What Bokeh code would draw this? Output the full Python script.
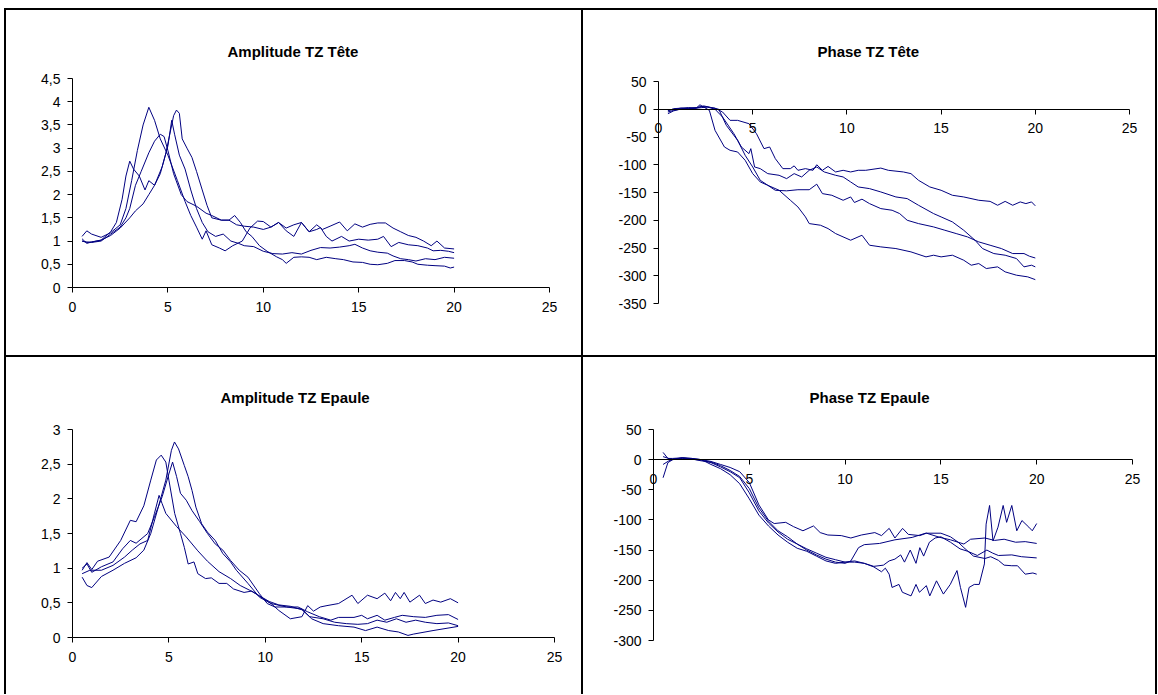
from bokeh.plotting import figure
from bokeh.layouts import column, row
from bokeh.models import Range1d, FixedTicker, CustomJSTickFormatter, Title
from bokeh.embed import file_html
from bokeh.resources import INLINE

# ---------------- data ----------------
# Amplitude TZ Tete
tl_x1 = [0.5, 0.75, 1.0, 1.5, 2.0, 2.5, 2.8, 3.1, 3.4, 3.7, 4.0, 4.3, 4.6, 5.0, 5.5, 5.9, 6.2, 6.5, 6.8, 7.0,
         7.3, 7.7, 8.0, 8.4, 8.9, 9.3, 9.7, 10.0, 10.4, 10.8, 11.2, 11.6, 12.0, 12.4, 12.8, 13.1, 13.5, 14.0, 14.4, 14.8,
         15.2, 15.6, 16.0, 16.4, 16.8, 17.2, 17.6, 18.0, 18.4, 18.8, 19.1, 19.5, 20.0]
tl_y1 = [1.1, 1.22, 1.15, 1.08, 1.18, 1.35, 1.7, 2.3, 2.95, 3.5, 3.88, 3.6, 3.2, 2.85, 2.3, 1.85, 1.55, 1.3, 1.04, 1.22,
         0.92, 0.85, 0.79, 0.9, 1.0, 1.28, 1.43, 1.42, 1.3, 1.4, 1.28, 1.35, 1.4, 1.2, 1.35, 1.25, 1.32, 1.41, 1.22, 1.37,
         1.3, 1.36, 1.39, 1.39, 1.28, 1.2, 1.12, 1.08, 1.0, 0.9, 1.0, 0.85, 0.83]
tl_x2 = [0.5, 0.75, 1.0, 1.5, 2.0, 2.5, 3.0, 3.3, 3.7, 4.0, 4.3, 4.6, 4.9, 5.1, 5.3, 5.45, 5.6, 5.75, 6.0, 6.26,
         6.5, 6.8, 7.05, 7.3, 7.8, 8.2, 8.6, 9.0, 9.5, 10.0, 10.4, 10.8, 11.2, 11.6, 12.0, 12.4, 12.8, 13.0, 13.3, 13.6,
         14.1, 14.5, 15.0, 15.5, 16.0, 16.3, 16.7, 17.1, 17.6, 18.1, 18.6, 18.9, 19.3, 19.7, 20.0]
tl_y2 = [1.0, 0.97, 0.98, 1.02, 1.12, 1.28, 1.5, 1.65, 1.8, 2.0, 2.2, 2.45, 2.9, 3.3, 3.7, 3.82, 3.75, 3.2, 3.0, 2.8,
         2.5, 2.1, 1.77, 1.5, 1.45, 1.45, 1.35, 1.32, 1.3, 1.25, 1.3, 1.4, 1.22, 1.1, 1.4, 1.2, 1.25, 1.29, 1.1, 1.0,
         1.1, 1.0, 1.04, 1.02, 1.04, 1.1, 0.88, 0.97, 0.92, 0.9, 0.85, 0.79, 0.8, 0.78, 0.75]
tl_x3 = [0.5, 0.75, 1.0, 1.5, 2.0, 2.3, 2.6, 2.8, 3.0, 3.2, 3.5, 3.8, 4.0, 4.3, 4.7, 5.0, 5.2, 5.35, 5.6, 5.9,
         6.2, 6.5, 6.8, 7.1, 7.5, 7.9, 8.3, 8.7, 9.0, 9.5, 10.0, 10.5, 11.0, 11.5, 12.0, 12.5, 13.0, 13.5, 14.0, 14.5,
         14.8, 15.2, 15.6, 16.0, 16.5, 16.8, 17.2, 17.6, 18.0, 18.5, 19.0, 19.5, 20.0]
tl_y3 = [1.05, 0.95, 0.98, 1.02, 1.2, 1.4, 1.9, 2.4, 2.72, 2.55, 2.4, 2.1, 2.3, 2.2, 2.6, 3.05, 3.6, 3.3, 2.85, 2.55,
         2.1, 1.7, 1.4, 1.2, 1.1, 1.15, 1.0, 0.95, 0.9, 0.88, 0.78, 0.73, 0.72, 0.75, 0.72, 0.8, 0.86, 0.85, 0.87, 0.9,
         0.93, 0.85, 0.79, 0.76, 0.74, 0.68, 0.62, 0.6, 0.57, 0.62, 0.6, 0.65, 0.63]
tl_x4 = [0.5, 0.75, 1.0, 1.5, 2.0, 2.5, 2.8, 3.0, 3.3, 3.6, 4.0, 4.3, 4.6, 4.8, 5.0, 5.3, 5.7, 6.0, 6.5, 7.0,
         7.3, 7.8, 8.2, 8.5, 8.8, 9.1, 9.4, 9.8, 10.2, 10.7, 11.0, 11.2, 11.6, 12.0, 12.4, 12.8, 13.3, 13.8, 14.2, 14.7,
         15.2, 15.6, 16.0, 16.5, 16.9, 17.4, 17.8, 18.1, 18.6, 19.0, 19.5, 19.8, 20.0]
tl_y4 = [1.0, 0.98, 0.97, 1.0, 1.15, 1.3, 1.5, 1.7, 2.2, 2.5, 2.9, 3.15, 3.3, 3.25, 2.95, 2.45, 2.0, 1.85, 1.75, 1.6,
         1.55, 1.45, 1.45, 1.55, 1.4, 1.2, 1.1, 0.9, 0.78, 0.66, 0.6, 0.52, 0.65, 0.66, 0.65, 0.6, 0.65, 0.62, 0.6, 0.55,
         0.54, 0.5, 0.49, 0.52, 0.58, 0.58, 0.55, 0.5, 0.48, 0.47, 0.46, 0.42, 0.44]

# Phase TZ Tete
tr_x1 = [0.5, 0.8, 1.2, 1.6, 2.0, 2.3, 2.6, 3.0, 3.4, 3.8, 4.2, 4.8, 5.2, 5.6, 5.9, 6.2, 6.6, 7.0, 7.2, 7.4,
         7.8, 8.2, 8.4, 8.7, 9.0, 9.4, 9.8, 10.2, 10.6, 11.0, 11.8, 12.2, 13.0, 13.4, 13.8, 14.4, 15.0, 15.6, 16.2, 17.0,
         17.6, 18.0, 18.4, 18.8, 19.2, 19.5, 19.8, 20.0]
tr_y1 = [-5, -2, 0, 1, 2, 3, 4, 2, -5, -20, -20, -26, -44, -71, -68, -89, -107, -107, -102, -110,
         -107, -110, -100, -110, -103, -113, -110, -113, -110, -110, -106, -110, -113, -116, -128, -140, -146, -155, -158, -164,
         -166, -173, -166, -173, -167, -170, -167, -174]
tr_x2 = [0.5, 0.8, 1.2, 1.6, 2.0, 2.3, 2.6, 3.0, 3.4, 4.0, 4.4, 4.8, 4.9, 5.1, 5.4, 5.8, 6.4, 6.8, 7.2, 7.6,
         8.0, 8.4, 8.8, 9.4, 9.8, 10.2, 10.6, 11.2, 11.8, 12.6, 13.2, 13.8, 14.6, 15.0, 15.6, 16.2, 16.8, 17.2, 17.8, 18.4,
         19.0, 19.4, 19.8, 20.0]
tr_y2 = [-8, -3, 1, 2, 3, 5, 4, 0, -14, -44, -68, -80, -71, -104, -107, -116, -119, -125, -116, -122,
         -110, -104, -113, -119, -122, -131, -140, -143, -149, -158, -161, -173, -188, -194, -203, -218, -236, -251, -260, -263,
         -269, -284, -281, -284]
tr_x3 = [0.5, 0.8, 1.2, 1.6, 2.0, 2.4, 2.8, 3.2, 3.6, 4.2, 4.6, 5.0, 5.4, 5.8, 6.2, 6.8, 7.4, 8.0, 8.4, 8.7,
         9.2, 9.8, 10.2, 10.4, 10.8, 11.2, 11.8, 12.4, 12.8, 13.2, 13.8, 14.6, 15.2, 15.8, 16.4, 17.0, 17.6, 18.2, 18.8, 19.4,
         19.7, 20.0]
tr_y3 = [-3, 1, 2, 1, 2, 6, 3, 0, -29, -56, -83, -104, -128, -137, -146, -147, -145, -145, -135, -152,
         -155, -164, -158, -168, -162, -170, -179, -182, -188, -200, -206, -212, -218, -224, -230, -239, -245, -251, -260, -260,
         -265, -268]
tr_x4 = [0.5, 0.8, 1.2, 1.6, 2.0, 2.2, 2.7, 3.0, 3.5, 3.8, 4.2, 4.6, 5.0, 5.4, 5.8, 6.4, 7.0, 7.4, 7.8, 8.0,
         8.6, 9.0, 9.4, 10.2, 10.8, 11.2, 11.8, 12.6, 13.4, 14.2, 14.6, 15.0, 15.6, 16.2, 16.6, 17.0, 17.4, 18.0, 18.4, 19.0,
         19.6, 20.0]
tr_y4 = [-2, 0, 2, 3, 2, 8, -2, -38, -68, -74, -77, -92, -116, -131, -137, -146, -164, -176, -194, -206,
         -209, -215, -224, -236, -227, -245, -248, -251, -257, -266, -263, -266, -263, -272, -281, -278, -287, -284, -293, -299,
         -302, -307]

# Amplitude TZ Epaule
bl_x1 = [0.5, 0.75, 1.0, 1.3, 1.9, 2.5, 3.0, 3.3, 3.7, 4.06, 4.35, 4.6, 4.84, 5.0, 5.3, 5.6, 5.8, 6.0, 6.3, 6.5,
         6.9, 7.2, 7.6, 8.0, 8.35, 8.9, 9.3, 9.9, 10.3, 10.7, 11.3, 11.9, 12.2, 12.5, 12.85, 13.2, 13.8, 14.5, 14.8, 15.3,
         15.8, 16.2, 16.5, 16.75, 17.0, 17.2, 17.5, 18.0, 18.3, 18.7, 19.1, 19.6, 20.0]
bl_y1 = [0.97, 1.08, 0.98, 1.1, 1.16, 1.40, 1.69, 1.67, 1.9, 2.27, 2.56, 2.63, 2.53, 2.27, 1.79, 1.5, 1.3, 1.06, 1.09, 0.92,
         0.85, 0.86, 0.78, 0.78, 0.70, 0.65, 0.67, 0.56, 0.49, 0.39, 0.27, 0.3, 0.46, 0.38, 0.44, 0.46, 0.49, 0.61, 0.49, 0.61,
         0.56, 0.64, 0.53, 0.65, 0.56, 0.65, 0.51, 0.61, 0.49, 0.54, 0.51, 0.56, 0.50]
bl_x2 = [0.5, 0.75, 1.0, 1.5, 2.1, 2.7, 3.3, 3.7, 4.06, 4.45, 4.84, 5.13, 5.29, 5.5, 5.8, 6.0, 6.2, 6.4, 6.7, 7.0,
         7.4, 7.8, 8.2, 8.5, 9.1, 9.7, 10.3, 11.1, 11.9, 12.4, 13.0, 13.8, 14.6, 15.2, 15.8, 16.4, 16.9, 17.4, 17.7, 18.7,
         20.0]
bl_y2 = [0.87, 0.75, 0.72, 0.88, 0.97, 1.07, 1.15, 1.26, 1.5, 1.88, 2.27, 2.70, 2.82, 2.72, 2.48, 2.32, 2.12, 1.88, 1.64, 1.52,
         1.4, 1.21, 1.09, 0.97, 0.78, 0.58, 0.49, 0.44, 0.41, 0.27, 0.2, 0.17, 0.15, 0.1, 0.15, 0.1, 0.08, 0.03, 0.05, 0.1,
         0.16]
bl_x3 = [0.5, 0.75, 1.0, 1.5, 2.1, 2.6, 3.0, 3.3, 3.9, 4.25, 4.65, 5.0, 5.19, 5.4, 5.6, 5.9, 6.2, 6.6, 7.0, 7.4,
         7.8, 8.2, 8.65, 9.1, 9.7, 10.1, 10.5, 11.1, 11.7, 12.2, 12.8, 13.4, 13.8, 14.6, 15.0, 15.3, 15.8, 16.2, 16.7, 17.1,
         17.7, 18.3, 18.9, 19.5, 20.0]
bl_y3 = [1.0, 1.06, 0.94, 1.02, 1.09, 1.28, 1.4, 1.36, 1.5, 1.74, 2.03, 2.36, 2.53, 2.32, 2.08, 1.98, 1.83, 1.67, 1.5, 1.35,
         1.26, 1.11, 0.97, 0.87, 0.63, 0.49, 0.44, 0.44, 0.44, 0.37, 0.3, 0.25, 0.29, 0.29, 0.32, 0.27, 0.32, 0.25, 0.29, 0.32,
         0.3, 0.29, 0.32, 0.33, 0.26]
bl_x4 = [0.5, 0.9, 1.5, 2.1, 2.7, 3.1, 3.5, 3.9, 4.25, 4.49, 4.65, 4.84, 5.4, 5.9, 6.5, 7.0, 7.6, 8.2, 8.7, 9.2,
         9.7, 10.2, 10.7, 11.3, 11.9, 12.3, 13.0, 13.6, 14.2, 14.8, 15.3, 15.8, 16.3, 16.8, 17.3, 17.8, 18.3, 18.9, 19.5, 20.0]
bl_y4 = [0.92, 0.97, 0.97, 1.04, 1.16, 1.26, 1.35, 1.4, 1.79, 2.05, 1.93, 1.79, 1.6, 1.45, 1.25, 1.1, 0.95, 0.85, 0.75, 0.68,
         0.6, 0.52, 0.47, 0.45, 0.4, 0.3, 0.27, 0.22, 0.2, 0.19, 0.2, 0.25, 0.22, 0.27, 0.22, 0.25, 0.22, 0.2, 0.21, 0.17]

# Phase TZ Epaule
br_x1 = [0.5, 0.8, 1.0, 1.5, 2.0, 2.5, 3.0, 3.5, 4.0, 4.5, 5.0, 5.5, 6.0, 6.3, 6.9, 7.3, 7.8, 8.35, 8.7, 9.1,
         9.8, 10.3, 10.85, 11.55, 11.9, 12.3, 12.6, 13.0, 13.3, 13.9, 14.25, 14.95, 15.5, 16.2, 16.55, 17.3, 17.8, 18.3, 18.9, 19.4,
         20.0]
br_y1 = [5, 2, 2, 3, 2, 0, -3, -8, -13, -20, -38, -75, -100, -106, -104, -111, -118, -110, -121, -125,
         -126, -130, -125, -121, -126, -114, -130, -114, -124, -126, -122, -129, -133, -140, -132, -130, -134, -132, -137, -136,
         -139]
br_x2 = [0.5, 0.8, 1.0, 1.5, 2.0, 2.5, 3.0, 3.5, 4.0, 4.5, 5.0, 5.5, 6.0, 6.5, 7.0, 7.5, 8.0, 8.5, 9.0, 9.5,
         10.0, 10.3, 10.7, 11.0, 11.8, 12.6, 13.5, 14.2, 15.0, 15.5, 15.9, 16.2, 16.7, 17.3, 17.6, 18.0, 18.3, 18.7, 19.0, 19.4,
         19.8, 20.0]
br_y2 = [-8, -2, 0, 2, 1, -1, -5, -12, -20, -30, -55, -85, -105, -120, -132, -140, -150, -158, -165, -170,
         -172, -168, -146, -141, -139, -133, -129, -122, -122, -128, -137, -146, -160, -164, -161, -167, -175, -176, -176, -190,
         -188, -190]
br_x3 = [0.5, 0.75, 1.0, 1.5, 2.0, 2.5, 3.0, 3.5, 4.0, 4.5, 5.0, 5.5, 6.0, 6.5, 7.0, 7.5, 8.0, 8.5, 9.0, 9.5,
         10.0, 10.5, 11.0, 11.5, 12.0, 12.3, 12.6, 12.9, 13.1, 13.4, 13.7, 13.9, 14.1, 14.4, 14.7, 15.0, 15.5, 16.0, 16.4, 16.9,
         17.4, 17.7, 18.0, 18.7, 19.2, 20.0]
br_y3 = [12, 2, 1, 3, 2, 0, -8, -15, -25, -40, -65, -92, -110, -125, -137, -147, -152, -160, -168, -172,
         -170, -168, -172, -177, -175, -168, -165, -158, -170, -150, -172, -146, -160, -137, -130, -128, -137, -148, -152, -159,
         -150, -155, -159, -158, -161, -163]
br_x4 = [0.5, 0.75, 1.0, 1.5, 2.0, 2.5, 3.0, 3.5, 4.0, 4.5, 5.0, 5.5, 6.0, 6.5, 7.0, 7.5, 8.0, 8.5, 9.0, 9.5,
         10.0, 10.5, 11.0, 11.5, 11.9, 12.1, 12.3, 12.45, 12.81, 12.99, 13.44, 13.7, 13.88, 14.24, 14.42, 14.77, 15.13, 15.49, 15.84, 16.02,
         16.29, 16.47, 16.74, 17.0, 17.27, 17.36, 17.54, 17.72, 17.98, 18.25, 18.43, 18.7, 18.96, 19.23, 19.59, 19.77, 20.0]
br_y4 = [-30, -5, 0, 3, 1, -2, -4, -10, -18, -28, -48, -80, -102, -118, -128, -140, -148, -155, -162, -166,
         -170, -170, -172, -178, -186, -180, -190, -212, -207, -220, -226, -207, -220, -209, -226, -201, -223, -207, -184, -212,
         -245, -212, -207, -207, -173, -107, -76, -135, -112, -76, -104, -76, -118, -101, -112, -118, -106]

titles = ["Amplitude TZ Tête", "Phase TZ Tête", "Amplitude TZ Epaule", "Phase TZ Epaule"]
x_ticks = [0, 5, 10, 15, 20, 25]
tl_y_ticks = [0, 0.5, 1, 1.5, 2, 2.5, 3, 3.5, 4, 4.5]
tr_y_ticks = [50, 0, -50, -100, -150, -200, -250, -300, -350]
bl_y_ticks = [0, 0.5, 1, 1.5, 2, 2.5, 3]
br_y_ticks = [50, 0, -50, -100, -150, -200, -250, -300]

LINE = "#000080"
FONT = "Liberation Sans"
B = "2px solid black"
X_MAX = 25


def make_panel(title, series, yr, yticks, origin, size, axis_box, frame_box,
               borders, title_left, title_standoff):
    """origin/size: canvas position and size on the page;
    axis_box: page pixels (x of 0, x of 25, y of top value, y of bottom value);
    frame_box: page pixels (left, right, top, bottom) of the plotting frame."""
    ox, oy = origin
    w, h = size
    ax0, ax1, ayt, ayb = axis_box
    fl, fr, ft, fb = frame_box
    ux = (ax1 - ax0) / X_MAX
    uy = (ayb - ayt) / (yr[1] - yr[0])
    xr = Range1d(-(ax0 - fl) / ux, X_MAX + (fr - ax1) / ux)
    yrng = Range1d(yr[0] - (fb - ayb) / uy, yr[1] + (ayt - ft) / uy)
    p = figure(width=w, height=h, x_range=xr, y_range=yrng,
               output_backend="svg", toolbar_location=None,
               min_border_left=fl - ox, min_border_right=ox + w - fr,
               min_border_top=ft - oy, min_border_bottom=oy + h - fb)
    p.outline_line_color = None
    p.background_fill_color = "white"
    p.border_fill_color = "white"
    p.xgrid.visible = False
    p.ygrid.visible = False
    for ax in (p.xaxis[0], p.yaxis[0]):
        ax.axis_line_color = "black"
        ax.major_tick_line_color = "black"
        ax.minor_tick_line_color = None
        ax.major_tick_in = 0
        ax.major_tick_out = 5
        ax.major_label_text_font = FONT
        ax.major_label_text_font_size = "14px"
        ax.major_label_text_color = "black"
        ax.fixed_location = 0
    p.xaxis.ticker = FixedTicker(ticks=x_ticks)
    p.yaxis.ticker = FixedTicker(ticks=yticks)
    p.xaxis.bounds = (0, X_MAX)
    p.yaxis.bounds = yr
    p.xaxis.major_label_standoff = 9
    p.yaxis.major_label_standoff = 7
    p.yaxis.formatter = CustomJSTickFormatter(code="return String(tick).replace('.', ',');")
    p.xaxis.formatter = CustomJSTickFormatter(code="return String(tick);")
    for xs, ys in series:
        p.line(xs, ys, line_color=LINE, line_width=1)
    p.add_layout(Title(text=title, align="left", offset=title_left - fl,
                       standoff=title_standoff, text_font=FONT,
                       text_font_style="bold", text_font_size="15px",
                       text_color="black"), "above")
    p.styles = borders
    return p


LEFT_FRAME = (24, 566)
RIGHT_FRAME = (605, 1146)
ROW1_FRAME = (68, 320)
ROW2_FRAME = (419, 672)

p1 = make_panel(titles[0], [(tl_x1, tl_y1), (tl_x2, tl_y2), (tl_x3, tl_y3), (tl_x4, tl_y4)],
                (0, 4.5), tl_y_ticks, (6, 10), (579, 347), (72, 549, 78, 287),
                LEFT_FRAME + ROW1_FRAME,
                {"border-left": B, "border-top": B, "border-right": B}, 227, 17)
p2 = make_panel(titles[1], [(tr_x1, tr_y1), (tr_x2, tr_y2), (tr_x3, tr_y3), (tr_x4, tr_y4)],
                (-350, 50), tr_y_ticks, (583, 10), (574, 347), (658, 1129, 81, 303),
                RIGHT_FRAME + ROW1_FRAME,
                {"border-top": B, "border-right": B}, 817, 17)
p3 = make_panel(titles[2], [(bl_x1, bl_y1), (bl_x2, bl_y2), (bl_x3, bl_y3), (bl_x4, bl_y4)],
                (0, 3), bl_y_ticks, (6, 357), (579, 339), (72, 554, 429, 637),
                LEFT_FRAME + ROW2_FRAME,
                {"border-left": B, "border-top": B, "border-right": B}, 220, 27)
p4 = make_panel(titles[3], [(br_x1, br_y1), (br_x2, br_y2), (br_x3, br_y3), (br_x4, br_y4)],
                (-300, 50), br_y_ticks, (583, 357), (574, 339), (653, 1132, 429, 640),
                RIGHT_FRAME + ROW2_FRAME,
                {"border-top": B, "border-right": B}, 809, 27)

layout = column(row(p1, p2), row(p3, p4), styles={"margin-left": "4px", "margin-top": "8px"})
open("out.html", "w").write(file_html(layout, INLINE))
